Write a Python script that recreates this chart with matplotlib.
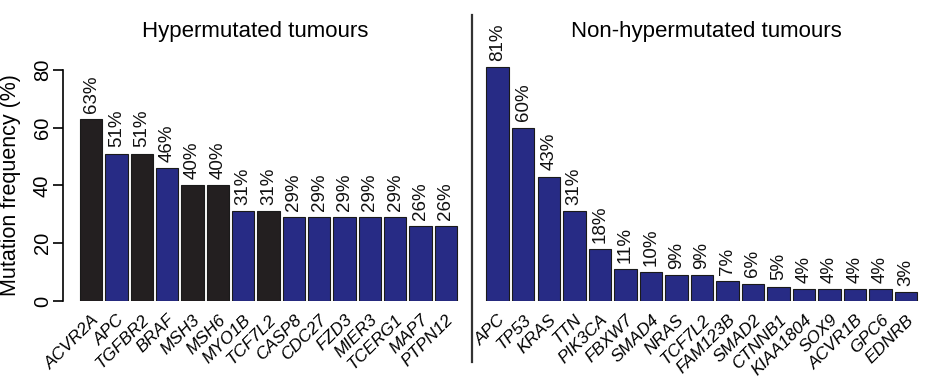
import matplotlib
matplotlib.use("Agg")
import matplotlib.pyplot as plt
from matplotlib.lines import Line2D

plt.rcParams["font.family"] = ["Liberation Sans", "DejaVu Sans"]

# data
hyper_genes = ["ACVR2A", "APC", "TGFBR2", "BRAF", "MSH3", "MSH6", "MYO1B", "TCF7L2",
               "CASP8", "CDC27", "FZD3", "MIER3", "TCERG1", "MAP7", "PTPN12"]
hyper_freq = [63, 51, 51, 46, 40, 40, 31, 31, 29, 29, 29, 29, 29, 26, 26]
hyper_black = ["ACVR2A", "TGFBR2", "MSH3", "MSH6", "TCF7L2"]

nonhyper_genes = ["APC", "TP53", "KRAS", "TTN", "PIK3CA", "FBXW7", "SMAD4", "NRAS", "TCF7L2",
                  "FAM123B", "SMAD2", "CTNNB1", "KIAA1804", "SOX9", "ACVR1B", "GPC6", "EDNRB"]
nonhyper_freq = [81, 60, 43, 31, 18, 11, 10, 9, 9, 7, 6, 5, 4, 4, 4, 4, 3]

NAVY = "#272b85"
BLACK = "#231f20"

W, H = 926, 378
fig = plt.figure(figsize=(W / 100, H / 100), dpi=100)


def px_axes(x0, x1, y_bottom, y_top):
    # pixel coords measured from top-left
    return fig.add_axes([x0 / W, 1 - y_bottom / H, (x1 - x0) / W, (y_bottom - y_top) / H])


def draw_panel(ax, genes, freq, colors):
    x = list(range(len(genes)))
    ax.bar(x, freq, width=0.88, color=colors, edgecolor="#1a1a1a", linewidth=0.8)
    for xi, v in zip(x, freq):
        ax.annotate(f"{v}%", (xi, v), xytext=(0, 4.5), textcoords="offset points",
                    rotation=90, ha="center", va="bottom", fontsize=13.5, color="#111111")
    ax.set_xticks(x)
    ax.set_xticklabels(genes, rotation=45, ha="right", rotation_mode="anchor",
                       fontstyle="italic", fontsize=12.5)
    ax.tick_params(axis="x", length=0, pad=8)
    ax.set_ylim(0, 100)
    for s in ["top", "right", "bottom"]:
        ax.spines[s].set_visible(False)


ax1 = px_axes(63, 460, 301, 12)
draw_panel(ax1, hyper_genes, hyper_freq,
           [BLACK if g in hyper_black else NAVY for g in hyper_genes])
ax1.set_xlim(-1.11, 14.56)
ax1.spines["left"].set_bounds(0, 80)
ax1.spines["left"].set_linewidth(1.2)
ax1.set_yticks([0, 20, 40, 60, 80])
ax1.tick_params(axis="y", length=7, width=1.2, pad=1, labelsize=14.5)
for lab in ax1.get_yticklabels():
    lab.set_rotation(90)
    lab.set_va("center")

ax2 = px_axes(475, 926, 301, 12)
draw_panel(ax2, nonhyper_genes, nonhyper_freq, [NAVY] * len(nonhyper_genes))
ax2.set_xlim(-0.89, 16.78)
ax2.spines["left"].set_visible(False)
ax2.set_yticks([])

fig.text(11 / W, 1 - 185 / H, "Mutation frequency (%)", rotation=90,
         ha="center", va="center", fontsize=15.5)
fig.text(255 / W, 1 - 32 / H, "Hypermutated tumours", ha="center", va="center", fontsize=16)
fig.text(706 / W, 1 - 32 / H, "Non-hypermutated tumours", ha="center", va="center", fontsize=16)

fig.add_artist(Line2D([472 / W, 472 / W], [1 - 15 / H, 1 - 362 / H],
                      transform=fig.transFigure, color="#333333", linewidth=1.6))

fig.savefig("out.png", dpi=100)
